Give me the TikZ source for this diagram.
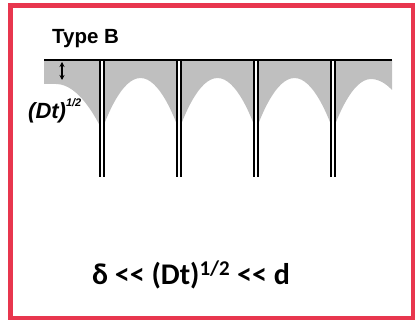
\documentclass[tikz,border=0pt]{standalone}
\usepackage{fontspec}
\setmainfont{Liberation Sans}
\newfontfamily\lawfont{Carlito}
\usetikzlibrary{arrows.meta}
\definecolor{framered}{RGB}{232,54,78}

\tikzset{
  <->/.style={draw=black,line width=1.2pt,{Stealth[length=5pt,width=5pt]}-{Stealth[length=5pt,width=5pt]}},
  stipple/.style={fill=black!25},
  gbline/.style={draw=black,line width=1.7pt},
  surface/.style={draw=black,line width=1.8pt}
}
\tikzstyle{every node}=[inner sep=0pt,text=black]

\begin{document}
\begin{tikzpicture}[x=1pt,y=-1pt]
    \useasboundingbox (0,0) rectangle (415,320);
    \draw [framered,line width=5pt] (10.5,5.5) rectangle (413.5,318.5);

    % diffused zone below the surface
    \fill [stipple] (44,60) -- (44,84) -- (56,84) parabola (102,130)
        parabola bend (140.5,78) (179,130)
        parabola bend (217.5,78) (256,130)
        parabola bend (294.5,78) (333,130)
        parabola bend (371,79) (392,90) -- (392,60) -- cycle;

    % grain boundaries
    \foreach \gx in {102,179,256,333} {
        \fill [white] (\gx-2.2,60) rectangle (\gx+2.2,177);
        \draw [gbline] (\gx-2.2,60) -- (\gx-2.2,177);
        \draw [gbline] (\gx+2.2,60) -- (\gx+2.2,177);
    }
    \draw [surface] (44,60) -- (392,60);

    \coordinate (top) at (62,62);
    \coordinate (bot) at (62,80);
    \draw [<->] (top) -- (bot);

    \node (type) [anchor=base west] at (52,44) {\fontsize{20.5}{24}\selectfont\bfseries Type B};
    \node (depth) [anchor=base west] at (28,119) {\fontsize{22}{24}\selectfont\bfseries\itshape (Dt)\raisebox{0.55em}{\fontsize{11}{11}\selectfont 1/2}};
    \node (law) at (191,275) {\fontsize{30}{32}\selectfont\lawfont\bfseries δ <\kern0pt< (Dt)\textsuperscript{1/2} <\kern0pt< d};
\end{tikzpicture}
\end{document}
